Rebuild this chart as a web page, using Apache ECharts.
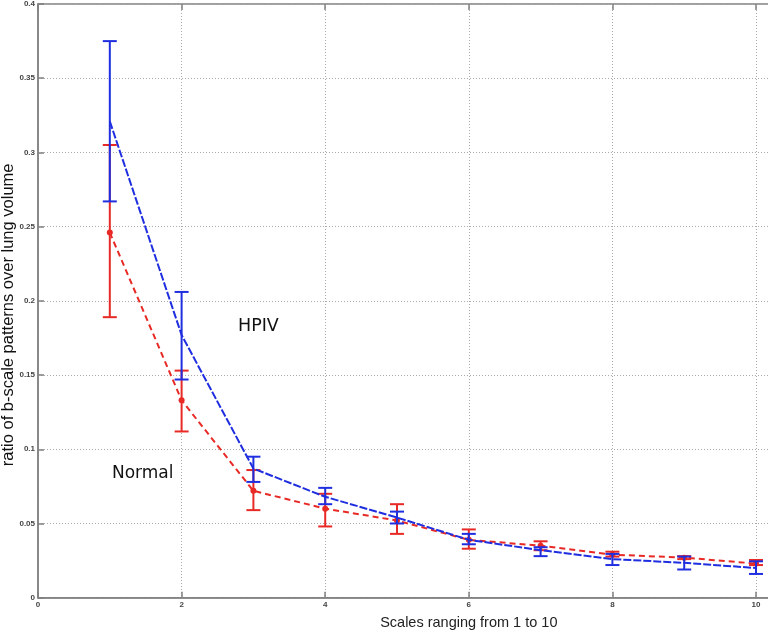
<!DOCTYPE html>
<html><head><meta charset="utf-8">
<script src="https://cdn.jsdelivr.net/npm/echarts@6/dist/echarts.min.js"></script>
<style>html,body{margin:0;padding:0;background:#fff}#c{width:768px;height:631px}</style>
</head><body><div id="c"></div>
<script>
var scales = [1,2,3,4,5,6,7,8,9,10];
var hpivMean = [0.321,0.177,0.087,0.068,0.054,0.039,0.032,0.026,0.0235,0.020];
var hpivLow  = [0.267,0.147,0.078,0.063,0.050,0.036,0.028,0.022,0.019,0.016];
var hpivHigh = [0.375,0.206,0.095,0.074,0.058,0.043,0.034,0.0295,0.0277,0.0245];
var normMean = [0.246,0.133,0.072,0.060,0.052,0.039,0.035,0.029,0.027,0.023];
var normLow  = [0.189,0.112,0.059,0.048,0.043,0.033,0.032,0.0277,0.026,0.022];
var normHigh = [0.305,0.153,0.086,0.070,0.063,0.046,0.038,0.031,0.028,0.0254];
var xTicks = [0,2,4,6,8,10,12];
var yTicks = [0,0.05,0.1,0.15,0.2,0.25,0.3,0.35,0.4];

var RED = '#e82a26', BLUE = '#1f2fe0';
function pairs(m){ return scales.map(function(s,i){return [s,m[i]];}); }
function errData(lo,hi){ return scales.map(function(s,i){return [s,lo[i],hi[i]];}); }
function errSeries(lo,hi,color,z){
  return {type:'custom', z:z, data:errData(lo,hi), encode:{x:0,y:[1,2]},
    renderItem:function(params,api){
      var x=api.value(0), a=api.coord([x,api.value(1)]), b=api.coord([x,api.value(2)]);
      var hw=7, st={stroke:color,lineWidth:2};
      return {type:'group',children:[
        {type:'line',shape:{x1:a[0],y1:a[1],x2:b[0],y2:b[1]},style:st},
        {type:'line',shape:{x1:a[0]-hw,y1:a[1],x2:a[0]+hw,y2:a[1]},style:st},
        {type:'line',shape:{x1:b[0]-hw,y1:b[1],x2:b[0]+hw,y2:b[1]},style:st}
      ]};
    }};
}
var chart = echarts.init(document.getElementById('c'),null,{renderer:'canvas'});
var lblStyle = {color:'#444',fontSize:8,fontWeight:'bold',fontFamily:"'Liberation Sans', sans-serif"};
chart.setOption({
  animation:false,
  grid:{left:38,top:4,width:861.6,height:593.7,containLabel:false,outerBoundsMode:'none',
        show:true,borderColor:'#808080',borderWidth:1.5},
  xAxis:[{type:'value',min:0,max:12,interval:2,
    name:'Scales ranging from 1 to 10',nameLocation:'middle',nameGap:18,nameMoveOverlap:false,
    nameTextStyle:{fontSize:14.5,color:'#222',fontFamily:'Liberation Sans'},
    axisLine:{show:true,lineStyle:{color:'#808080',width:1.5}},
    axisTick:{show:true,inside:true,length:6,lineStyle:{color:'#808080',width:1.5}},
    axisLabel:Object.assign({margin:3},lblStyle),
    splitLine:{show:true,lineStyle:{color:'#aaaaaa',type:[1,2],width:1}}},
   {type:'value',position:'top',min:0,max:12,interval:2,
    axisLine:{show:false},axisLabel:{show:false},splitLine:{show:false},
    axisTick:{show:true,inside:true,length:6,lineStyle:{color:'#808080',width:1.5}}}],
  yAxis:{type:'value',min:0,max:0.4,interval:0.05,
    name:'ratio of b-scale patterns over lung volume',nameLocation:'middle',nameGap:21,nameMoveOverlap:false,
    nameTextStyle:{fontSize:16.5,color:'#111',fontFamily:'Liberation Sans',padding:[0,0,0,-28]},
    axisLine:{show:true,lineStyle:{color:'#808080',width:1.5}},
    axisTick:{show:true,inside:true,length:6,lineStyle:{color:'#808080',width:1.5}},
    axisLabel:Object.assign({margin:3,formatter:function(v){return String(+v.toFixed(2));}},lblStyle),
    splitLine:{show:true,lineStyle:{color:'#aaaaaa',type:[1,2],width:1}}},
  series:[
    {type:'line',name:'Normal',data:pairs(normMean),z:3,symbol:'circle',symbolSize:6,
     itemStyle:{color:RED},lineStyle:{color:RED,width:2,type:[6,4]}},
    errSeries(normLow,normHigh,RED,4),
    {type:'line',name:'HPIV',data:pairs(hpivMean),z:5,symbol:'none',
     lineStyle:{color:BLUE,width:2,type:[8,2]}},
    errSeries(hpivLow,hpivHigh,BLUE,6)
  ],
  graphic:[
    {type:'text',left:238,top:317,style:{text:'HPIV',fontSize:17.5,fill:'#111',fontFamily:'DejaVu Sans'}},
    {type:'text',left:112,top:465,style:{text:'Normal',fontSize:17,fill:'#111',fontFamily:'DejaVu Sans'}}
  ]
});
</script></body></html>
